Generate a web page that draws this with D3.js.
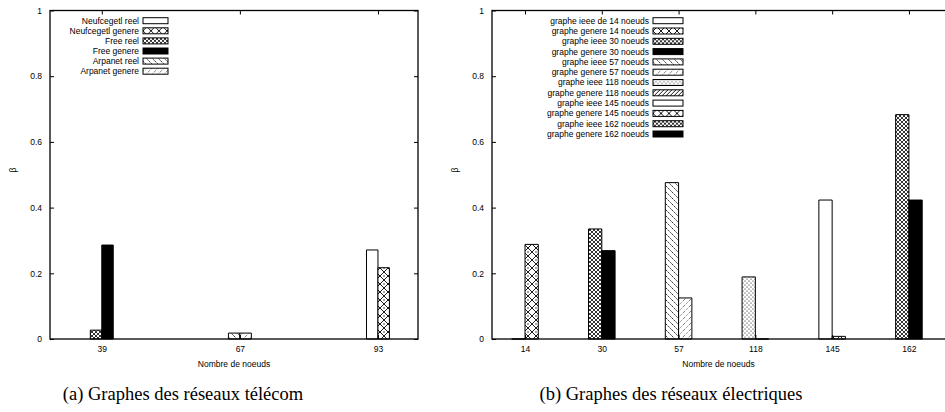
<!DOCTYPE html>
<html>
<head>
<meta charset="utf-8">
<script src="https://cdn.jsdelivr.net/npm/d3@7/dist/d3.min.js"></script>
<style>
  body { margin: 0; background: #fff; }
  svg { display: block; }
  text { font-family: "Liberation Sans", Arial, sans-serif; }
  text.caption { font-family: "Liberation Serif", "Times New Roman", serif; }
</style>
</head>
<body>
<div id="chart"></div>
<script>
// Data
var leftCats = ["39", "67", "93"];
var leftNames = ["Neufcegetl reel", "Neufcegetl genere", "Free reel", "Free genere", "Arpanet reel", "Arpanet genere"];
var leftValues = [0.271, 0.217, 0.027, 0.286, 0.018, 0.018];
var leftSeriesCat = [2, 2, 0, 0, 1, 1]; // which category each series sits at

var rightCats = ["14", "30", "57", "118", "145", "162"];
var rightNames = [
  "graphe ieee de 14 noeuds", "graphe genere 14 noeuds",
  "graphe ieee 30 noeuds", "graphe genere 30 noeuds",
  "graphe ieee 57 noeuds", "graphe genere 57 noeuds",
  "graphe ieee 118 noeuds", "graphe genere 118 noeuds",
  "graphe ieee 145 noeuds", "graphe genere 145 noeuds",
  "graphe ieee 162 noeuds", "graphe genere 162 noeuds"
];
var rightValues = [0, 0.288, 0.335, 0.269, 0.476, 0.125, 0.189, 0, 0.423, 0.008, 0.683, 0.423];
var rightSeriesCat = [0, 0, 1, 1, 2, 2, 3, 3, 4, 4, 5, 5];

var yTicks = [0, 0.2, 0.4, 0.6, 0.8, 1];

// fill styles per series
var leftFills = ["white", "cross", "dense", "solid", "back", "slashdot"];
var rightFills = ["white", "cross", "dense", "solid", "back", "slashdot", "dots", "slash", "white", "cross", "dense", "solid"];

var width = 945, height = 412;
var svg = d3.select("#chart").append("svg")
  .attr("width", width)
  .attr("height", height)
  .attr("viewBox", [0, 0, width, height]);

// patterns
var defs = svg.append("defs");
function pat(id, size, draw) {
  var p = defs.append("pattern").attr("id", id)
    .attr("patternUnits", "userSpaceOnUse")
    .attr("width", size).attr("height", size);
  p.append("rect").attr("width", size).attr("height", size).attr("fill", "white");
  draw(p, size);
}
pat("cross", 8, function (p, s) {
  p.append("path").attr("d", `M0,0L${s},${s}M${s},0L0,${s}`).attr("stroke", "black").attr("stroke-width", 0.9);
  p.append("circle").attr("cx", 0).attr("cy", s / 2).attr("r", 0.7).attr("fill", "black");
  p.append("circle").attr("cx", s).attr("cy", s / 2).attr("r", 0.7).attr("fill", "black");
});
pat("dense", 4, function (p, s) {
  p.append("path").attr("d", `M0,0L${s},${s}M${s},0L0,${s}`).attr("stroke", "black").attr("stroke-width", 0.8);
});
pat("back", 6, function (p, s) {
  p.append("path").attr("d", `M0,0L${s},${s}M-1,${s - 1}L1,${s + 1}M${s - 1},-1L${s + 1},1`)
    .attr("stroke", "black").attr("stroke-width", 0.8).attr("stroke-dasharray", "2,1");
});
pat("slashdot", 6, function (p, s) {
  p.append("path").attr("d", `M0,${s}L${s},0M-1,1L1,-1M${s - 1},${s + 1}L${s + 1},${s - 1}`)
    .attr("stroke", "black").attr("stroke-width", 0.7).attr("stroke-dasharray", "1,1.5");
});
pat("dots", 4, function (p, s) {
  p.append("circle").attr("cx", 1).attr("cy", 1).attr("r", 0.6).attr("fill", "black");
  p.append("circle").attr("cx", 3).attr("cy", 3).attr("r", 0.6).attr("fill", "black");
});
pat("slash", 4, function (p, s) {
  p.append("path").attr("d", `M0,${s}L${s},0M-1,1L1,-1M${s - 1},${s + 1}L${s + 1},${s - 1}`)
    .attr("stroke", "black").attr("stroke-width", 0.9);
});
function fillOf(k) {
  if (k === "white") return "white";
  if (k === "solid") return "black";
  return `url(#${k})`;
}

var y = d3.scaleLinear().domain([0, 1]).range([339, 10.5]);

function panel(opt) {
  var x = d3.scaleLinear().domain(opt.domain).range([opt.x0, opt.x1]);
  var g = svg.append("g");
  var idx = opt.cats.map((c, i) => i);

  // bars
  g.append("g").selectAll("path")
    .data(opt.values)
    .join("path")
    .attr("d", function (v, i) {
      var c = opt.seriesCat[i];
      var left = i % 2 === 0 ? x(c - opt.bw) : x(c);
      var right = i % 2 === 0 ? x(c) : x(c + opt.bw);
      return `M${left},${y(0)}V${y(v)}H${right}V${y(0)}Z`;
    })
    .attr("fill", (v, i) => fillOf(opt.fills[i]))
    .attr("stroke", "black")
    .attr("stroke-width", 1);

  // axes
  var fmt = d => opt.cats[d];
  g.append("g").attr("transform", `translate(0,${y(0)})`)
    .call(d3.axisBottom(x).tickValues(idx).tickFormat(fmt).tickSize(-4).tickPadding(7))
    .call(a => a.select(".domain").remove());
  g.append("g").attr("transform", `translate(0,${y(1)})`)
    .call(d3.axisTop(x).tickValues(idx).tickFormat("").tickSize(-4))
    .call(a => a.select(".domain").remove());
  g.append("g").attr("transform", `translate(${opt.x0},0)`)
    .call(d3.axisLeft(y).tickValues(yTicks).tickFormat(d => String(d)).tickSize(-4).tickPadding(8))
    .call(a => a.select(".domain").remove());
  g.append("g").attr("transform", `translate(${opt.x1},0)`)
    .call(d3.axisRight(y).tickValues(yTicks).tickFormat("").tickSize(-4))
    .call(a => a.select(".domain").remove());
  g.selectAll(".tick text").attr("font-size", 8.5).attr("fill", "black")
    .attr("font-family", "Liberation Sans, Arial, sans-serif");
  g.selectAll(".tick line").attr("stroke", "black");

  g.append("rect")
    .attr("x", opt.x0).attr("y", y(1))
    .attr("width", opt.x1 - opt.x0).attr("height", y(0) - y(1))
    .attr("fill", "none").attr("stroke", "black").attr("stroke-width", 1.3);

  // labels
  g.append("text").attr("x", (opt.x0 + Math.min(opt.x1, width)) / 2).attr("y", 367)
    .attr("text-anchor", "middle").attr("font-size", 8.5).text("Nombre de noeuds");
  g.append("text").attr("transform", `translate(${opt.x0 - 34},170) rotate(-90)`)
    .attr("text-anchor", "middle").attr("font-size", 8.5).text("β");

  // legend
  var lg = g.append("g").selectAll("g").data(opt.names).join("g")
    .attr("transform", (d, i) => `translate(${opt.legX},${20.7 + i * opt.legStep})`);
  lg.append("text").attr("x", -4).attr("dy", "0.35em").attr("text-anchor", "end")
    .attr("font-size", 8.5).text(d => d);
  lg.append("rect").attr("x", 0).attr("y", -3).attr("width", opt.legW).attr("height", 6)
    .attr("fill", (d, i) => fillOf(opt.fills[i])).attr("stroke", "black").attr("stroke-width", 1);

  // caption
  svg.append("text").attr("class", "caption")
    .attr("x", opt.capX).attr("y", 400)
    .attr("text-anchor", "middle")
    .attr("font-size", 18.5).text(opt.caption);
}

panel({
  cats: leftCats, names: leftNames, values: leftValues, seriesCat: leftSeriesCat, fills: leftFills,
  domain: [-0.375, 2.29], x0: 50, x1: 418, bw: 0.083,
  legX: 143, legStep: 10.1, legW: 25,
  capX: 183, caption: "(a) Graphes des réseaux télécom"
});
panel({
  cats: rightCats, names: rightNames, values: rightValues, seriesCat: rightSeriesCat, fills: rightFills,
  domain: [-0.43, 5.6], x0: 492, x1: 955, bw: 0.173,
  legX: 653, legStep: 10.3, legW: 30,
  capX: 671, caption: "(b) Graphes des réseaux électriques"
});
</script>
</body>
</html>
